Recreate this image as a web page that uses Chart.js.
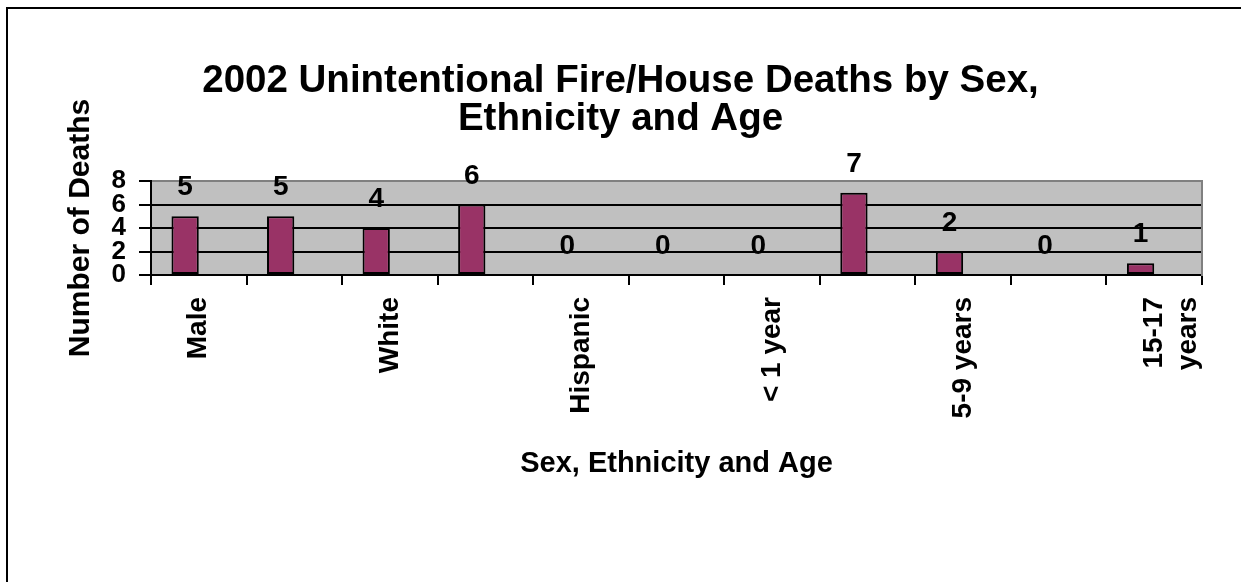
<!DOCTYPE html>
<html>
<head>
<meta charset="utf-8">
<script src="https://cdn.jsdelivr.net/npm/chart.js@4/dist/chart.umd.min.js"></script>
<style>
  html, body { margin: 0; padding: 0; background: #ffffff; overflow: hidden; }
  #wrap { position: relative; width: 1241px; height: 582px; }
  #frame { position: absolute; left: 6px; top: 7px; width: 1300px; height: 700px;
           border-top: 2px solid #000; border-left: 2px solid #000; pointer-events: none; }
  canvas { position: absolute; left: 0; top: 0; }
</style>
</head>
<body>
<div id="wrap">
  <canvas id="c" width="1241" height="582"></canvas>
  <div id="frame"></div>
</div>
<script>
// ---- data ----
const categories = ['Male', 'Female', 'White', 'Black', 'Hispanic', 'Other',
                    '< 1 year', '1-4 years', '5-9 years', '10-14 years', '15-17 years'];
const deaths = [5, 5, 4, 6, 0, 0, 0, 7, 2, 0, 1];
const emptySeries = [null, null, null, null, null, null, null, null, null, null, null];
const yMin = 0;
const yMax = 8;
const yStep = 2;
const chartTitle = ['2002 Unintentional Fire/House Deaths by Sex,', 'Ethnicity and Age'];
const yTitle = 'Number of Deaths';
const xTitle = 'Sex, Ethnicity and Age';

const FONT = '"Liberation Sans", Arial, Helvetica, sans-serif';

const plotBg = {
  id: 'plotBg',
  beforeDraw(chart) {
    const {ctx, chartArea: a} = chart;
    ctx.save();
    ctx.fillStyle = '#C0C0C0';
    ctx.fillRect(a.left, a.top, a.right - a.left, a.bottom - a.top);
    ctx.restore();
  }
};

const valueLabels = {
  id: 'valueLabels',
  afterDatasetsDraw(chart) {
    const {ctx} = chart;
    const meta = chart.getDatasetMeta(0);
    ctx.save();
    ctx.font = 'bold 28px ' + FONT;
    ctx.fillStyle = '#000';
    ctx.textAlign = 'center';
    ctx.textBaseline = 'alphabetic';
    meta.data.forEach((bar, i) => {
      const v = chart.data.datasets[0].data[i];
      if (v === null || v === undefined) return;
      ctx.fillText(String(v), bar.x, bar.y - 21);
    });
    ctx.restore();
  }
};

new Chart(document.getElementById('c'), {
  type: 'bar',
  data: {
    labels: categories,
    datasets: [
      {
        label: 'Deaths',
        data: deaths,
        backgroundColor: '#993366',
        borderColor: '#000000',
        borderWidth: 2,
        borderSkipped: false,
        categoryPercentage: 2 / 3.5,
        barPercentage: 1.0
      },
      {
        label: '',
        data: emptySeries,
        backgroundColor: 'rgba(0,0,0,0)',
        borderWidth: 0,
        categoryPercentage: 2 / 3.5,
        barPercentage: 1.0
      }
    ]
  },
  options: {
    responsive: false,
    animation: false,
    devicePixelRatio: 1,
    layout: { padding: { left: 0, right: 0, top: 0, bottom: 0 } },
    plugins: {
      legend: { display: false },
      tooltip: { enabled: false },
      title: {
        display: true,
        text: chartTitle,
        color: '#000',
        font: { family: FONT, size: 38.5, weight: 'bold', lineHeight: 1.0 },
        padding: { top: 62, bottom: 42 }
      }
    },
    scales: {
      x: {
        offset: true,
        grid: {
          display: true,
          offset: true,
          drawOnChartArea: false,
          drawTicks: true,
          tickLength: 10,
          lineWidth: 2,
          tickWidth: 2,
          tickColor: '#000',
          color: '#000'
        },
        border: { display: true, color: '#000', width: 2 },
        ticks: {
          autoSkip: false,
          minRotation: 90,
          maxRotation: 90,
          padding: 12,
          color: '#000',
          font: { family: FONT, size: 28, weight: 'bold', lineHeight: 1.2 },
          callback: function (value, index) {
            if (index % 2 !== 0) return '';
            const lbl = categories[index];
            if (lbl.length > 10) {
              const k = lbl.indexOf(' ');
              return [lbl.slice(0, k), lbl.slice(k + 1)];
            }
            return lbl;
          }
        },
        title: {
          display: true,
          text: xTitle,
          color: '#000',
          font: { family: FONT, size: 29, weight: 'bold', lineHeight: 1.2 },
          padding: { top: 0, bottom: 101 }
        },
        afterFit: (scale) => { scale.height = 307; }
      },
      y: {
        min: yMin,
        max: yMax,
        grid: {
          display: true,
          drawTicks: true,
          tickLength: 12,
          lineWidth: 2,
          tickWidth: 2,
          tickColor: '#000',
          color: (ctx) => (ctx.tick && ctx.tick.value === yMax ? '#808080' : '#000')
        },
        border: { display: true, color: '#000', width: 2 },
        ticks: {
          stepSize: yStep,
          autoSkip: false,
          padding: 13,
          color: '#000',
          font: { family: FONT, size: 26, weight: 'bold', lineHeight: 0.9 }
        },
        title: {
          display: true,
          text: yTitle,
          color: '#000',
          font: { family: FONT, size: 30, weight: 'bold', lineHeight: 1.2 },
          padding: { top: 63, bottom: 0 }
        },
        afterFit: (scale) => { scale.width = 151; }
      },
      yRight: {
        position: 'right',
        min: yMin,
        max: yMax,
        grid: { display: false, drawTicks: false },
        border: { display: true, color: '#808080', width: 2 },
        ticks: { display: false },
        afterFit: (scale) => { scale.width = 39; }
      }
    }
  },
  plugins: [plotBg, valueLabels]
});
</script>
</body>
</html>
